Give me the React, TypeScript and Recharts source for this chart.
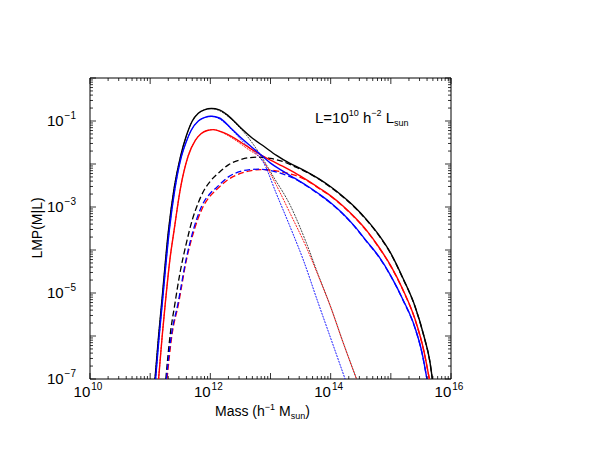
import React from 'react';
import { LineChart, Line, XAxis, YAxis, ReferenceArea } from 'recharts';

type Pt = [number, number];

// points are [log10 M (h^-1 Msun), log10 LMP(M|L)]
const BLACK_TOTAL: Pt[] = [
  [11.08, -7], [11.14, -6], [11.2, -5.1], [11.3, -3.6], [11.4, -2.55], [11.5, -1.85],
  [11.6, -1.35], [11.7, -1.0], [11.8, -0.82], [11.9, -0.74], [12.02, -0.71], [12.15, -0.74],
  [12.3, -0.88], [12.5, -1.15], [12.7, -1.4], [12.9, -1.6], [13.1, -1.8], [13.3, -1.97],
  [13.55, -2.14], [13.8, -2.34], [14.0, -2.53], [14.2, -2.75], [14.4, -3.0], [14.6, -3.3],
  [14.8, -3.65], [15.0, -4.08], [15.2, -4.65], [15.4, -5.3], [15.55, -6.0], [15.65, -6.6], [15.69, -7],
];
const BLACK_CENTRAL: Pt[] = [
  [11.08, -7], [11.14, -6], [11.2, -5.1], [11.3, -3.6], [11.4, -2.55], [11.5, -1.85],
  [11.6, -1.35], [11.7, -1.0], [11.8, -0.82], [11.9, -0.74], [12.02, -0.71], [12.15, -0.76],
  [12.3, -0.9], [12.45, -1.1], [12.6, -1.33], [12.8, -1.72], [13.05, -2.3], [13.32, -2.94],
  [13.6, -3.85], [13.8, -4.6], [14.0, -5.32], [14.2, -6.12], [14.43, -7],
];
const BLACK_SAT: Pt[] = [
  [11.26, -7], [11.33, -6], [11.41, -5.26], [11.5, -4.5], [11.6, -3.85], [11.7, -3.3],
  [11.8, -2.9], [11.9, -2.6], [12.0, -2.4], [12.16, -2.18], [12.3, -2.02], [12.5, -1.9],
  [12.66, -1.85], [12.83, -1.84], [13.0, -1.87], [13.2, -1.94], [13.4, -2.06], [13.6, -2.19],
  [13.8, -2.35], [14.0, -2.54], [14.2, -2.76], [14.4, -3.01], [14.6, -3.31], [14.8, -3.66],
  [15.0, -4.09], [15.2, -4.66], [15.4, -5.31], [15.55, -6.01], [15.65, -6.61], [15.69, -7],
];

const RED_TOTAL: Pt[] = [
  [11.14, -7], [11.2, -6.0], [11.25, -5.26], [11.33, -4.2], [11.4, -3.52], [11.5, -2.59],
  [11.63, -1.82], [11.75, -1.45], [11.85, -1.29], [11.95, -1.22], [12.05, -1.2], [12.2, -1.26],
  [12.4, -1.4], [12.6, -1.58], [12.83, -1.78], [13.0, -1.91], [13.2, -2.05], [13.4, -2.2],
  [13.6, -2.37], [13.82, -2.57], [14.0, -2.74], [14.2, -2.97], [14.4, -3.24], [14.6, -3.55],
  [14.8, -3.93], [15.0, -4.37], [15.2, -4.92], [15.4, -5.6], [15.55, -6.35], [15.64, -7],
];
const RED_CENTRAL: Pt[] = [
  [11.14, -7], [11.2, -6.0], [11.25, -5.26], [11.33, -4.2], [11.4, -3.52], [11.5, -2.59],
  [11.63, -1.82], [11.75, -1.45], [11.85, -1.29], [11.95, -1.22], [12.05, -1.2], [12.2, -1.27],
  [12.4, -1.43], [12.6, -1.63], [12.88, -1.94], [13.1, -2.5], [13.32, -3.13], [13.6, -3.95],
  [13.8, -4.62], [14.0, -5.33], [14.2, -6.13], [14.43, -7],
];
const RED_SAT: Pt[] = [
  [11.28, -7], [11.36, -6], [11.47, -5.26], [11.6, -4.25], [11.73, -3.55], [11.86, -3.05],
  [12.0, -2.74], [12.1, -2.6], [12.3, -2.36], [12.5, -2.22], [12.66, -2.16], [12.83, -2.13],
  [13.0, -2.14], [13.2, -2.19], [13.4, -2.26], [13.6, -2.38], [13.82, -2.58], [14.0, -2.75],
  [14.2, -2.98], [14.4, -3.25], [14.6, -3.56], [14.8, -3.94], [15.0, -4.38], [15.2, -4.93],
  [15.4, -5.61], [15.55, -6.36], [15.64, -7],
];

const BLUE_TOTAL: Pt[] = [
  [11.09, -7], [11.15, -6], [11.2, -5.26], [11.32, -3.52], [11.41, -2.59], [11.52, -1.82],
  [11.6, -1.48], [11.68, -1.22], [11.8, -1.0], [11.9, -0.92], [12.02, -0.89], [12.15, -0.93],
  [12.33, -1.15], [12.5, -1.38], [12.7, -1.62], [12.85, -1.8], [13.0, -1.98], [13.2, -2.16],
  [13.4, -2.33], [13.6, -2.5], [13.82, -2.71], [14.0, -2.9], [14.2, -3.15], [14.4, -3.45],
  [14.6, -3.8], [14.8, -4.15], [15.0, -4.6], [15.2, -5.15], [15.4, -5.8], [15.52, -6.4], [15.6, -7],
];
const BLUE_CENTRAL: Pt[] = [
  [11.09, -7], [11.15, -6], [11.2, -5.26], [11.32, -3.52], [11.41, -2.59], [11.52, -1.82],
  [11.6, -1.48], [11.68, -1.22], [11.8, -1.0], [11.9, -0.92], [12.02, -0.89], [12.15, -0.95],
  [12.38, -1.24], [12.6, -1.56], [12.75, -1.74], [12.88, -1.96], [13.1, -2.7], [13.32, -3.44],
  [13.55, -4.25], [13.77, -5.14], [14.0, -6.05], [14.24, -7],
];
const BLUE_SAT: Pt[] = [
  [11.27, -7], [11.35, -6], [11.46, -5.26], [11.6, -4.2], [11.72, -3.52], [11.85, -3.0],
  [12.0, -2.68], [12.1, -2.55], [12.3, -2.3], [12.5, -2.17], [12.66, -2.13], [12.8, -2.12],
  [13.0, -2.15], [13.2, -2.23], [13.4, -2.34], [13.6, -2.51], [13.82, -2.72], [14.0, -2.91],
  [14.2, -3.16], [14.4, -3.46], [14.6, -3.81], [14.8, -4.16], [15.0, -4.61], [15.2, -5.16],
  [15.4, -5.81], [15.52, -6.41], [15.6, -7],
];

const X_DECADES = [10, 11, 12, 13, 14, 15, 16];
const X_LABELED = [10, 12, 14, 16];
const Y_DECADES = [-7, -6, -5, -4, -3, -2, -1, 0];
const Y_LABELED = [-7, -5, -3, -1];

const W = 592;
const H = 458;
const MARGIN = { top: 78, right: 141, bottom: 78, left: 89 };
const PLOT = { left: 90, top: 78, right: 451, bottom: 379 };
const FONT = '"Liberation Sans", Arial, Helvetica, sans-serif';

const withMinors = (decades: number[]) => {
  const out: number[] = [];
  decades.forEach((d, i) => {
    out.push(d);
    if (i < decades.length - 1) for (let k = 2; k <= 9; k++) out.push(d + Math.log10(k));
  });
  return out;
};
const X_TICKS = withMinors(X_DECADES);
const Y_TICKS = withMinors(Y_DECADES);

const isDecade = (v: number) => Math.abs(v - Math.round(v)) < 1e-9;
const fmtExp = (n: number) => (n < 0 ? '\u2212' + Math.abs(n) : String(n));

const XTick = (props: any) => {
  const { x, payload } = props;
  const v = payload.value;
  const len = isDecade(v) ? 6 : 3;
  const labeled = X_LABELED.some((l) => Math.abs(l - v) < 1e-9);
  return (
    <g>
      <line x1={x} y1={PLOT.bottom} x2={x} y2={PLOT.bottom - len} stroke="#000" strokeWidth={0.8} />
      <line x1={x} y1={PLOT.top} x2={x} y2={PLOT.top + len} stroke="#000" strokeWidth={0.8} />
      {labeled && (
        <text x={x - 2} y={PLOT.bottom + 18} textAnchor="middle" fontFamily={FONT} fontSize={15} fill="#000">
          10<tspan dx={1} dy={-7} fontSize={10}>{fmtExp(Math.round(v))}</tspan>
        </text>
      )}
    </g>
  );
};

const YTick = (props: any) => {
  const { y, payload } = props;
  const v = payload.value;
  const len = isDecade(v) ? 6 : 3;
  const labeled = Y_LABELED.some((l) => Math.abs(l - v) < 1e-9);
  return (
    <g>
      <line x1={PLOT.left} y1={y} x2={PLOT.left + len} y2={y} stroke="#000" strokeWidth={0.8} />
      <line x1={PLOT.right} y1={y} x2={PLOT.right - len} y2={y} stroke="#000" strokeWidth={0.8} />
      {labeled && (
        <text x={PLOT.left - 14} y={y + 5} textAnchor="end" fontFamily={FONT} fontSize={15} fill="#000">
          10<tspan dx={1} dy={-7} fontSize={10}>{fmtExp(Math.round(v))}</tspan>
        </text>
      )}
    </g>
  );
};

const SERIES = [
  { key: 'bc', pts: BLACK_CENTRAL, color: '#333333', kind: 'dot' },
  { key: 'rc', pts: RED_CENTRAL, color: '#ff0000', kind: 'dot' },
  { key: 'uc', pts: BLUE_CENTRAL, color: '#0000ff', kind: 'dot' },
  { key: 'bs', pts: BLACK_SAT, color: '#000000', kind: 'dash' },
  { key: 'rs', pts: RED_SAT, color: '#ff0000', kind: 'dash' },
  { key: 'us', pts: BLUE_SAT, color: '#0000ff', kind: 'dash' },
  { key: 'bt', pts: BLACK_TOTAL, color: '#000000', kind: 'solid' },
  { key: 'rt', pts: RED_TOTAL, color: '#ff0000', kind: 'solid' },
  { key: 'ut', pts: BLUE_TOTAL, color: '#0000ff', kind: 'solid' },
];

const STYLE: Record<string, { width: number; dash?: string }> = {
  solid: { width: 1.4 },
  dash: { width: 1.3, dash: '6 3' },
  dot: { width: 0.9, dash: '2 1' },
};

export default function App() {
  return (
    <div style={{ position: 'relative', width: W, height: H, background: '#fff' }}>
      <style>{'body{margin:0}'}</style>
      <LineChart width={W} height={H} margin={MARGIN}>
        <XAxis
          type="number"
          dataKey="x"
          domain={[10, 16]}
          ticks={X_TICKS}
          interval={0}
          allowDataOverflow
          height={1}
          tickSize={0}
          tickMargin={0}
          axisLine={false}
          tick={<XTick />}
        />
        <YAxis
          type="number"
          domain={[-7, 0]}
          ticks={Y_TICKS}
          interval={0}
          allowDataOverflow
          width={1}
          tickSize={0}
          tickMargin={0}
          axisLine={false}
          tick={<YTick />}
        />
        <ReferenceArea x1={10} x2={16} y1={-7} y2={0} fill="none" stroke="#000" strokeWidth={1} />
        {SERIES.map((s) => (
          <Line
            key={s.key}
            data={s.pts.map(([x, y]) => ({ x, y }))}
            dataKey="y"
            type="monotone"
            stroke={s.color}
            strokeWidth={STYLE[s.kind].width}
            strokeDasharray={STYLE[s.kind].dash}
            dot={false}
            activeDot={false}
            isAnimationActive={false}
          />
        ))}
      </LineChart>
      <svg width={W} height={H} style={{ position: 'absolute', left: 0, top: 0, pointerEvents: 'none' }}>
        <text x={215} y={416} fontFamily={FONT} fontSize={14} fill="#000">
          Mass (h<tspan dy={-6} fontSize={9}>{'\u22121'}</tspan>
          <tspan dy={6}> M</tspan>
          <tspan dy={3} fontSize={9}>sun</tspan>
          <tspan dy={-3}>)</tspan>
        </text>
        <text x={0} y={0} transform="translate(42,228) rotate(-90)" textAnchor="middle" fontFamily={FONT} fontSize={14} fill="#000">
          LMP(M|L)
        </text>
        <text x={315} y={123} fontFamily={FONT} fontSize={15} fill="#000">
          L=10<tspan dy={-7} fontSize={9}>10</tspan>
          <tspan dy={7}> h</tspan>
          <tspan dy={-7} fontSize={9}>{'\u22122'}</tspan>
          <tspan dy={7}> L</tspan>
          <tspan dy={3} fontSize={9}>sun</tspan>
        </text>
      </svg>
    </div>
  );
}
